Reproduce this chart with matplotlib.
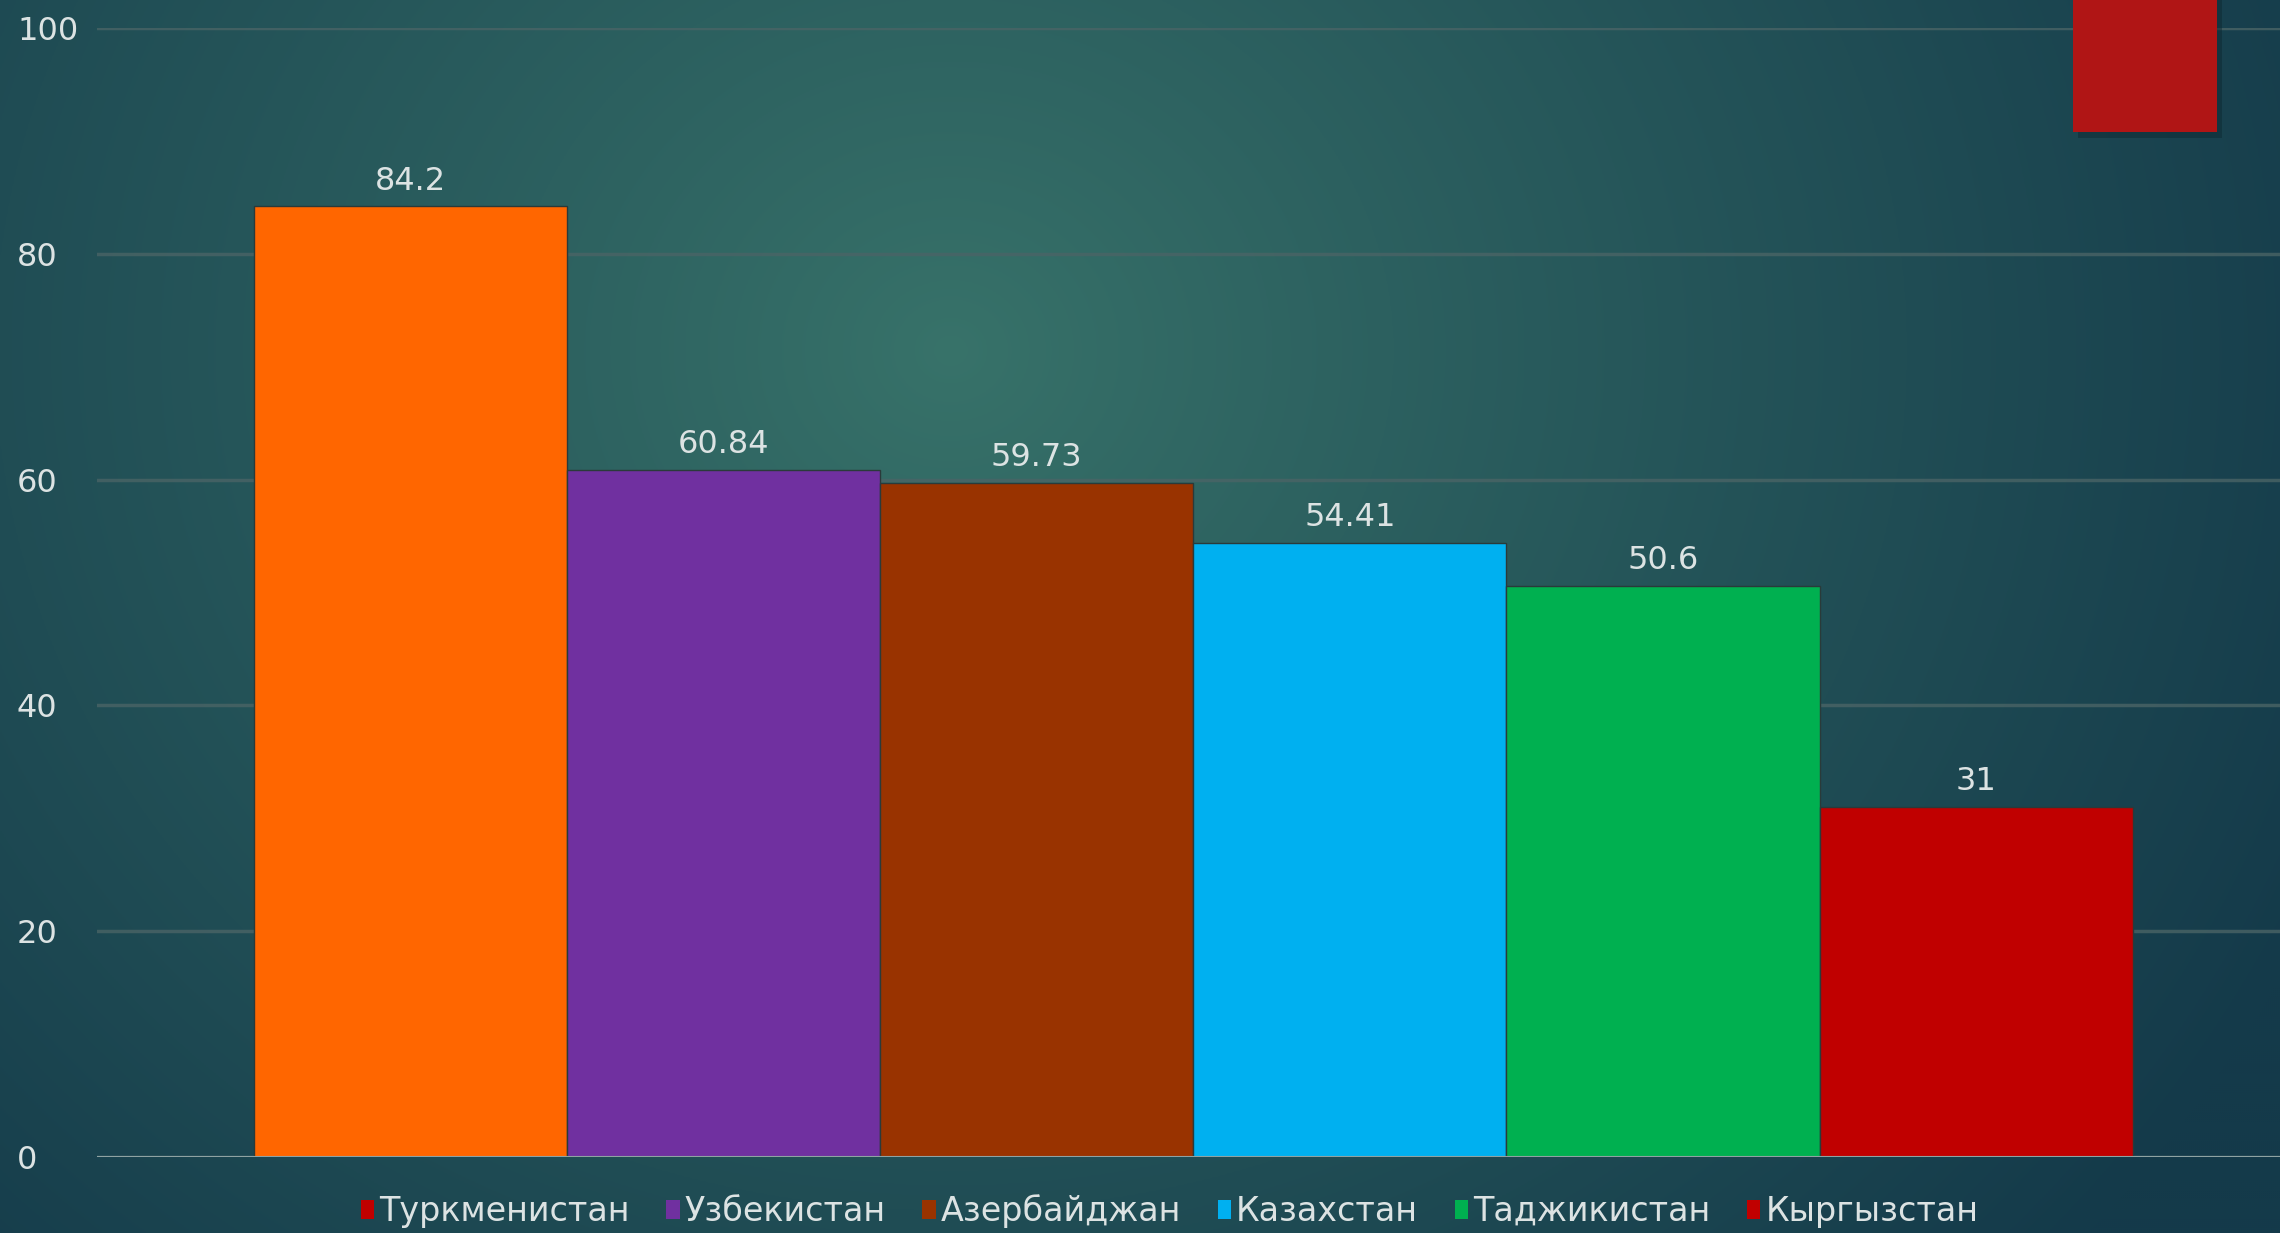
import matplotlib
matplotlib.use("Agg")
import matplotlib.pyplot as plt
import numpy as np
from matplotlib.patches import Rectangle

# Data
countries = ["Туркменистан", "Узбекистан", "Азербайджан", "Казахстан", "Таджикистан", "Кыргызстан"]
values = [84.2, 60.84, 59.73, 54.41, 50.6, 31]
value_labels = ["84.2", "60.84", "59.73", "54.41", "50.6", "31"]
bar_colors = ["#FF6600", "#7030A0", "#993300", "#00B0F0", "#00B050", "#C00000"]
legend_colors = ["#C00000", "#7030A0", "#993300", "#00B0F0", "#00B050", "#C00000"]
y_ticks = [0, 20, 40, 60, 80, 100]

plt.rcParams["font.family"] = ["DejaVu Sans"]
text_color = "#DCE3E3"

W, H = 2280, 1233
fig = plt.figure(figsize=(W / 100, H / 100), dpi=100)

# Background radial gradient
bg = fig.add_axes([0, 0, 1, 1])
bg.set_axis_off()
yy, xx = np.mgrid[0:H:2, 0:W:2]
cx, cy = 950, 350
r = np.sqrt(((xx - cx) / 1500.0) ** 2 + ((yy - cy) / 1350.0) ** 2)
r = np.clip(r, 0, 1) ** 0.9
c_in = np.array([0x38, 0x73, 0x6A]) / 255
c_out = np.array([0x14, 0x3A, 0x4A]) / 255
img = c_in[None, None, :] * (1 - r[..., None]) + c_out[None, None, :] * r[..., None]
bg.imshow(img, extent=[0, 1, 0, 1], aspect="auto", zorder=0)
bg.set_xlim(0, 1)
bg.set_ylim(0, 1)

# Decorative red box top-right with shadow
fig.patches.append(Rectangle((2078 / W, 1 - 138 / H), 144 / W, 138 / H,
                             transform=fig.transFigure, facecolor="#0E2A33",
                             alpha=0.5, edgecolor="none", zorder=1))
fig.patches.append(Rectangle((2073 / W, 1 - 132 / H), 144 / W, 132 / H,
                             transform=fig.transFigure, facecolor="#B01515",
                             edgecolor="none", zorder=2))

ax = fig.add_axes([97 / W, 1 - 1157 / H, 1 - 97 / W, (1157 - 28) / H])
ax.patch.set_alpha(0)
x = np.arange(len(countries))
ax.bar(x, values, width=1.0, color=bar_colors, edgecolor="#2A3A3A", linewidth=1.0, zorder=3)

for xi, v, lab in zip(x, values, value_labels):
    ax.annotate(lab, (xi, v), xytext=(0, 7), textcoords="offset points",
                ha="center", va="bottom", fontsize=23, color=text_color)

ax.set_xlim(-1.0, 5.97)
ax.set_ylim(0, 100)
ax.set_yticks(y_ticks)
ax.set_yticklabels([str(t) for t in y_ticks])
ax.set_xticks([])
ax.tick_params(axis="y", length=0, labelsize=23, labelcolor=text_color, pad=0)
for lbl in ax.get_yticklabels():
    lbl.set_horizontalalignment("left")
    lbl.set_x(-80 / (W - 97))
ax.grid(axis="y", color="#4A6466", linewidth=2.5, alpha=0.8, zorder=1)
for s in ["top", "right", "left", "bottom"]:
    ax.spines[s].set_visible(False)
ax.axhline(0, color="#8FA3A3", linewidth=1.5, zorder=4)

# Legend
handles = [Rectangle((0, 0), 1, 1, facecolor=c, edgecolor="none") for c in legend_colors]
fig.legend(handles, countries, loc="center", bbox_to_anchor=(0.513, 1 - 1211 / H),
           ncol=6, frameon=False, fontsize=24, labelcolor=text_color,
           handlelength=0.4, handleheight=0.5, handletextpad=0.15, columnspacing=1.1)

fig.savefig("out.png", dpi=100)
